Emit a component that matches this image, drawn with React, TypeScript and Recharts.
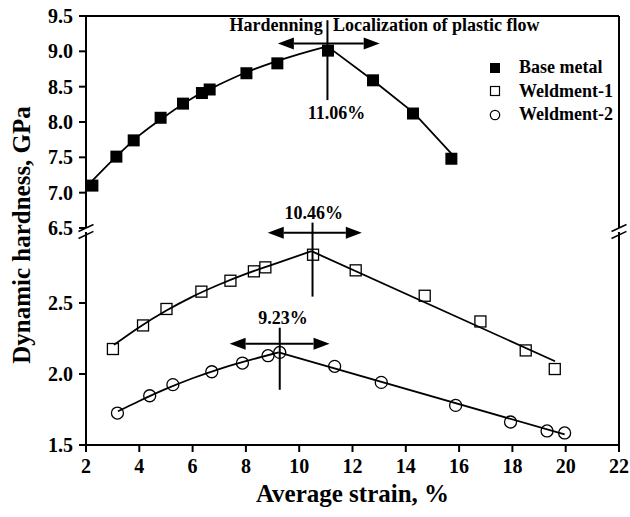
import React from 'react';
import {
    ScatterChart,
    Scatter,
    XAxis,
    YAxis,
    ReferenceLine,
    ReferenceDot,
    Legend,
} from 'recharts';

const FONT = '"Liberation Serif", "Times New Roman", serif';

// measured points (strain %, hardness GPa)
const baseStrain = [2.24, 3.14, 3.79, 4.8, 5.64, 6.35, 6.64, 8.02, 9.18, 11.08, 12.77, 14.27, 15.71];
const baseHardness = [7.1, 7.51, 7.74, 8.06, 8.26, 8.41, 8.46, 8.69, 8.83, 9.01, 8.59, 8.12, 7.48];

const weld1Strain = [3.01, 4.14, 5.02, 6.33, 7.42, 8.3, 8.73, 10.52, 12.12, 14.71, 16.8, 18.5, 19.59];
const weld1Hardness = [2.176, 2.342, 2.458, 2.58, 2.657, 2.723, 2.751, 2.84, 2.73, 2.551, 2.37, 2.166, 2.035];

const weld2Strain = [3.18, 4.39, 5.26, 6.72, 7.87, 8.83, 9.27, 11.33, 13.08, 15.87, 17.93, 19.3, 19.96];
const weld2Hardness = [1.725, 1.847, 1.925, 2.016, 2.077, 2.129, 2.152, 2.054, 1.941, 1.779, 1.662, 1.599, 1.585];

// fitted curves
const baseRiseStrain = [2.24, 3, 4, 5, 6, 7, 8, 9, 10, 11.06];
const baseRiseHardness = [7.17, 7.46, 7.81, 8.09, 8.34, 8.53, 8.7, 8.84, 8.96, 9.07];
const baseFallStrain = [11.06, 12.8, 14.3, 15.72];
const baseFallHardness = [9.07, 8.58, 8.13, 7.55];

const weld1RiseStrain = [3.05, 4, 5, 6, 7, 8, 9, 10.46];
const weld1RiseHardness = [2.205, 2.33, 2.445, 2.545, 2.63, 2.705, 2.77, 2.865];
const weld1FallStrain = [10.46, 19.6];
const weld1FallHardness = [2.865, 2.09];

const weld2RiseStrain = [3.2, 4, 5, 6, 7, 8, 9.23];
const weld2RiseHardness = [1.737, 1.81, 1.895, 1.97, 2.035, 2.09, 2.152];
const weld2FallStrain = [9.23, 19.96];
const weld2FallHardness = [2.152, 1.575];

const xTicks = [2, 4, 6, 8, 10, 12, 14, 16, 18, 20, 22];
const topTicks = [6.5, 7.0, 7.5, 8.0, 8.5, 9.0, 9.5];
const bottomTicks = [1.5, 2.0, 2.5];

const legendNames = ['Base metal', 'Weldment-1', 'Weldment-2'];

const pts = (xs: number[], ys: number[]) => xs.map((x, i) => ({ x, y: ys[i] }));

const W = 630;
const H = 517;
const axisLine = { stroke: '#000', strokeWidth: 2 };
const boldText = { fontWeight: 'bold' as const, fontFamily: FONT, fill: '#000' };

const YTick = (p: any) => (
    <text x={p.x} y={p.y} dy="0.355em" textAnchor="end" fontSize={20} {...boldText}>
        {Number(p.payload.value).toFixed(1)}
    </text>
);
const XTick = (p: any) => (
    <text x={p.x} y={p.y} dy="0.71em" textAnchor="middle" fontSize={20} {...boldText}>
        {p.payload.value}
    </text>
);

const FilledSquare = (p: any) => <rect x={p.cx - 6} y={p.cy - 6} width={12} height={12} fill="#000" />;
const OpenSquare = (p: any) => (
    <rect x={p.cx - 5.5} y={p.cy - 5.5} width={11} height={11} fill="none" stroke="#000" strokeWidth={1.3} />
);
const OpenCircle = (p: any) => <circle cx={p.cx} cy={p.cy} r={6} fill="none" stroke="#000" strokeWidth={1.3} />;
const NoDot = () => <g />;

const DoubleArrow = (p: any) => {
    const { x1, y1, x2, y2 } = p;
    const h = 16;
    const w = 6;
    return (
        <g>
            <line x1={x1 + h} y1={y1} x2={x2 - h} y2={y2} stroke="#000" strokeWidth={2} />
            <polygon points={`${x1},${y1} ${x1 + h},${y1 - w} ${x1 + h},${y1 + w}`} fill="#000" />
            <polygon points={`${x2},${y2} ${x2 - h},${y2 - w} ${x2 - h},${y2 + w}`} fill="#000" />
        </g>
    );
};

const note = (text: string, anchor: 'start' | 'middle' | 'end' = 'middle') => (p: any) => (
    <text x={p.cx} y={p.cy} dy="0.35em" textAnchor={anchor} fontSize={18} {...boldText}>
        {text}
    </text>
);

const LegendBox = () => {
    const icons = [
        <rect x={5} y={5} width={10} height={10} fill="#000" />,
        <rect x={5.5} y={5.5} width={9} height={9} fill="none" stroke="#000" strokeWidth={1.2} />,
        <circle cx={10} cy={10} r={4.7} fill="none" stroke="#000" strokeWidth={1.2} />,
    ];
    return (
        <div>
            {legendNames.map((name, i) => (
                <div key={name} style={{ display: 'flex', alignItems: 'center', height: 23.5 }}>
                    <svg width={20} height={20}>{icons[i]}</svg>
                    <span
                        style={{
                            marginLeft: 14,
                            fontFamily: FONT,
                            fontWeight: 'bold',
                            fontSize: 18,
                            color: '#000',
                            whiteSpace: 'nowrap',
                        }}
                    >
                        {name}
                    </span>
                </div>
            ))}
        </div>
    );
};

const fitLine = { stroke: '#000', strokeWidth: 1.8 };
const slash = { stroke: '#000', strokeWidth: 1.5 };

const TopPanel = () => (
    <ScatterChart width={W} height={H} margin={{ top: 16, right: 11, bottom: 289, left: 0 }}>
        <XAxis type="number" dataKey="x" domain={[2, 22]} ticks={xTicks} hide />
        <YAxis
            type="number"
            dataKey="y"
            domain={[6.5, 9.5]}
            ticks={topTicks}
            width={86}
            interval={0}
            tick={YTick}
            tickSize={7}
            tickMargin={6}
            axisLine={axisLine}
            tickLine={axisLine}
        />
        <ReferenceLine y={9.5} stroke="#000" strokeWidth={2} />
        <ReferenceLine segment={[{ x: 22, y: 6.5 }, { x: 22, y: 9.5 }]} stroke="#000" strokeWidth={2} />
        <ReferenceLine segment={[{ x: 1.72, y: 6.45 }, { x: 2.28, y: 6.55 }]} ifOverflow="visible" {...slash} />
        <ReferenceLine segment={[{ x: 21.72, y: 6.45 }, { x: 22.28, y: 6.55 }]} ifOverflow="visible" {...slash} />

        <ReferenceLine segment={[{ x: 11.06, y: 9.44 }, { x: 11.06, y: 8.31 }]} stroke="#000" strokeWidth={2} />
        <ReferenceLine segment={[{ x: 9.2, y: 9.11 }, { x: 13.02, y: 9.11 }]} shape={DoubleArrow} />
        <ReferenceDot x={10.88} y={9.37} ifOverflow="visible" shape={note('Hardenning', 'end')} />
        <ReferenceDot x={11.27} y={9.37} ifOverflow="visible" shape={note('Localization of plastic flow', 'start')} />
        <ReferenceDot x={11.4} y={8.13} ifOverflow="visible" shape={note('11.06%')} />

        <Scatter data={pts(baseRiseStrain, baseRiseHardness)} line={fitLine} lineJointType="monotoneX" shape={NoDot} legendType="none" isAnimationActive={false} />
        <Scatter data={pts(baseFallStrain, baseFallHardness)} line={fitLine} shape={NoDot} legendType="none" isAnimationActive={false} />
        <Scatter name="Base metal" data={pts(baseStrain, baseHardness)} shape={FilledSquare} isAnimationActive={false} />

        <Legend
            layout="vertical"
            align="center"
            verticalAlign="middle"
            content={() => <LegendBox />}
            wrapperStyle={{ left: 485, top: 56, width: 145 }}
        />
    </ScatterChart>
);

const BottomPanel = () => (
    <ScatterChart width={W} height={H} margin={{ top: 232, right: 11, bottom: 0, left: 0 }}>
        <XAxis
            type="number"
            dataKey="x"
            domain={[2, 22]}
            ticks={xTicks}
            interval={0}
            height={72}
            tick={XTick}
            tickSize={7}
            tickMargin={7}
            axisLine={axisLine}
            tickLine={axisLine}
            label={{
                value: 'Average strain, %',
                position: 'insideBottom',
                offset: 15,
                fontSize: 25,
                fontWeight: 'bold',
                fontFamily: FONT,
                fill: '#000',
            }}
        />
        <YAxis
            type="number"
            dataKey="y"
            domain={[1.5, 3.0]}
            ticks={bottomTicks}
            width={86}
            interval={0}
            tick={YTick}
            tickSize={7}
            tickMargin={6}
            axisLine={axisLine}
            tickLine={axisLine}
            label={{
                content: () => (
                    <text
                        x={21}
                        y={235}
                        transform="rotate(-90 21 235)"
                        textAnchor="middle"
                        dominantBaseline="central"
                        fontSize={25}
                        {...boldText}
                    >
                        Dynamic hardness, GPa
                    </text>
                ),
            }}
        />
        <ReferenceLine x={22} stroke="#000" strokeWidth={2} />
        <ReferenceLine segment={[{ x: 1.72, y: 2.954 }, { x: 2.28, y: 3.004 }]} ifOverflow="visible" {...slash} />
        <ReferenceLine segment={[{ x: 21.72, y: 2.954 }, { x: 22.28, y: 3.004 }]} ifOverflow="visible" {...slash} />

        <ReferenceLine segment={[{ x: 10.5, y: 3.066 }, { x: 10.5, y: 2.545 }]} ifOverflow="visible" stroke="#000" strokeWidth={2} />
        <ReferenceLine segment={[{ x: 8.82, y: 2.995 }, { x: 12.35, y: 2.995 }]} ifOverflow="visible" shape={DoubleArrow} />
        <ReferenceDot x={10.55} y={3.136} ifOverflow="visible" shape={note('10.46%')} />

        <ReferenceLine segment={[{ x: 9.27, y: 2.326 }, { x: 9.27, y: 1.889 }]} stroke="#000" strokeWidth={2} />
        <ReferenceLine segment={[{ x: 7.39, y: 2.213 }, { x: 11.14, y: 2.213 }]} shape={DoubleArrow} />
        <ReferenceDot x={9.39} y={2.394} ifOverflow="visible" shape={note('9.23%')} />

        <Scatter data={pts(weld1RiseStrain, weld1RiseHardness)} line={fitLine} lineJointType="monotoneX" shape={NoDot} legendType="none" isAnimationActive={false} />
        <Scatter data={pts(weld1FallStrain, weld1FallHardness)} line={fitLine} shape={NoDot} legendType="none" isAnimationActive={false} />
        <Scatter name="Weldment-1" data={pts(weld1Strain, weld1Hardness)} shape={OpenSquare} isAnimationActive={false} />

        <Scatter data={pts(weld2RiseStrain, weld2RiseHardness)} line={fitLine} lineJointType="monotoneX" shape={NoDot} legendType="none" isAnimationActive={false} />
        <Scatter data={pts(weld2FallStrain, weld2FallHardness)} line={fitLine} shape={NoDot} legendType="none" isAnimationActive={false} />
        <Scatter name="Weldment-2" data={pts(weld2Strain, weld2Hardness)} shape={OpenCircle} isAnimationActive={false} />
    </ScatterChart>
);

export default function App() {
    return (
        <div style={{ position: 'absolute', left: 0, top: 0, width: W, height: H, background: '#fff' }}>
            <div style={{ position: 'absolute', left: 0, top: 0 }}>
                <BottomPanel />
            </div>
            <div style={{ position: 'absolute', left: 0, top: 0 }}>
                <TopPanel />
            </div>
        </div>
    );
}
